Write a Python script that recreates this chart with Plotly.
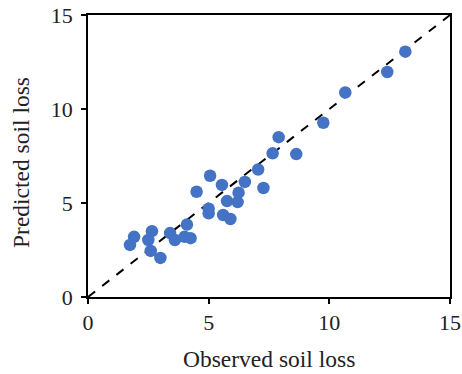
import plotly.graph_objects as go

observed = [1.74, 1.91, 2.5, 2.65, 2.6, 3.0, 3.4, 3.6, 4.1, 4.0, 4.25,
            4.5, 5.0, 5.0, 5.06, 5.55, 5.6, 5.76, 5.9, 6.2, 6.24, 6.5,
            7.05, 7.27, 7.65, 7.9, 8.63, 9.75, 10.66, 12.4, 13.15]
predicted = [2.77, 3.2, 3.03, 3.5, 2.45, 2.08, 3.4, 3.03, 3.85, 3.2, 3.13,
             5.6, 4.45, 4.7, 6.45, 5.96, 4.36, 5.1, 4.15, 5.05, 5.55, 6.12,
             6.78, 5.8, 7.64, 8.5, 7.6, 9.27, 10.88, 11.97, 13.05]
line_x = [0, 15]
line_y = [0, 15]
ticks = [0, 5, 10, 15]

fig = go.Figure()
fig.add_trace(go.Scatter(x=line_x, y=line_y, mode="lines",
                         line=dict(color="black", width=2, dash="dash"),
                         showlegend=False, hoverinfo="skip"))
fig.add_trace(go.Scatter(x=observed, y=predicted, mode="markers",
                         marker=dict(color="#4472C4", size=12.5),
                         showlegend=False))

tick_font = dict(family="Liberation Serif, Times New Roman, serif", size=22, color="#222")
title_font = dict(family="Liberation Serif, Times New Roman, serif", size=23.5, color="#222")
axis_common = dict(range=[0, 15], tickvals=ticks, showgrid=False, zeroline=False,
                   showline=True, mirror=True, linecolor="black", linewidth=1.5,
                   ticks="outside", ticklen=5, tickwidth=1.5, tickcolor="black",
                   tickfont=tick_font, automargin=False, ticklabeloverflow="allow")
fig.update_layout(
    width=462, height=374,
    margin=dict(l=88, r=12, t=15, b=77),
    paper_bgcolor="white", plot_bgcolor="white",
    font=tick_font,
    xaxis=axis_common,
    yaxis=dict(**axis_common, ticklabelstandoff=4),
    annotations=[
        dict(text="Observed soil loss", xref="paper", yref="paper", x=0.5, y=0,
             yshift=-62, xanchor="center", yanchor="middle", showarrow=False,
             font=title_font),
        dict(text="Predicted soil loss", xref="paper", yref="paper", x=0, y=0.5,
             xshift=-67, yshift=-7, xanchor="center", yanchor="middle", textangle=-90,
             showarrow=False, font=title_font),
    ],
)
fig.write_html("out.html", config={"displayModeBar": False},
               post_script="document.body.style.margin='0';document.body.style.overflow='hidden';")
